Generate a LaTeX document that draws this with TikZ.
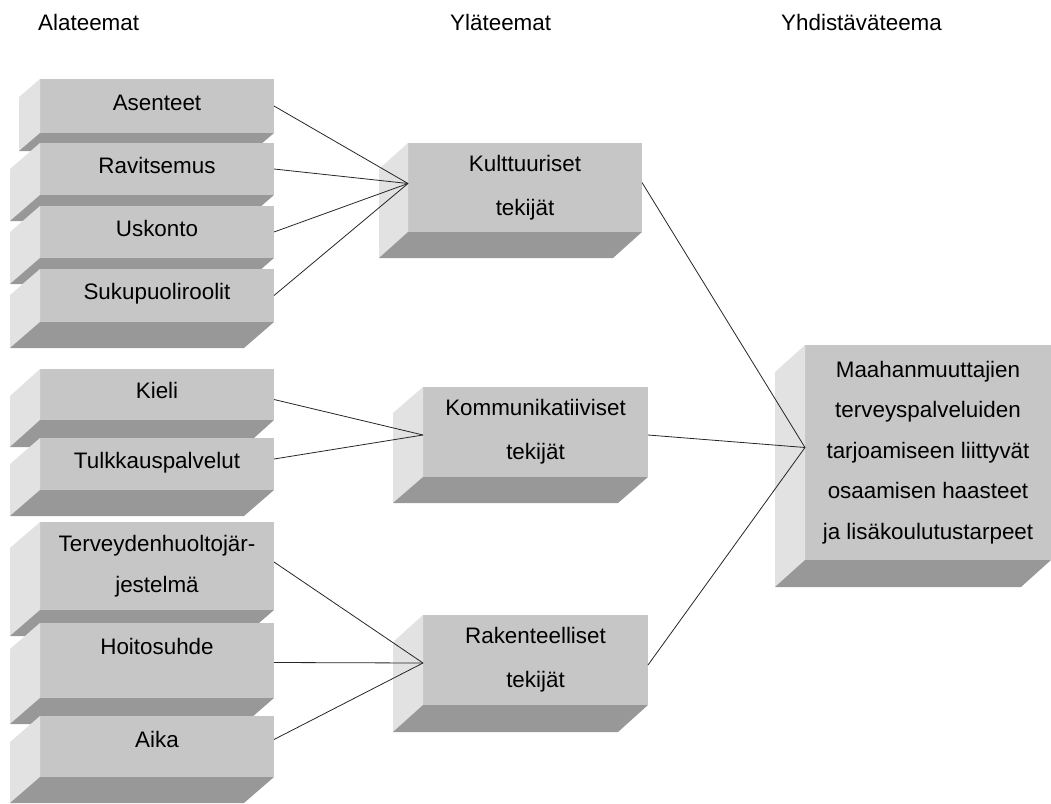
\documentclass[tikz,border=0pt]{standalone}
\usepackage{fontspec}
\setmainfont{Liberation Sans}
\usetikzlibrary{calc}
\definecolor{frontc}{RGB}{198,198,198}
\definecolor{leftc}{RGB}{226,226,226}
\definecolor{botc}{RGB}{152,152,152}
\newcommand\cubefaces[3]{%
  \fill[leftc] (#1.north west) -- (#1.south west) -- ($(#1.south west)+(#2,#3)$) -- ($(#1.north west)+(#2,#3)$) -- cycle;
  \fill[botc] (#1.south west) -- (#1.south east) -- ($(#1.south east)+(#2,#3)$) -- ($(#1.south west)+(#2,#3)$) -- cycle;
}
\begin{document}
\begin{tikzpicture}[x=1pt, y=-1pt,
  txt/.style={font=\fontsize{22.4}{40.5}\selectfont},
  front/.style={txt, fill=frontc, inner sep=0pt, outer sep=0pt, align=center, anchor=north west},
  leftbox/.style={front, minimum width=234pt},
  widetxt/.style={font=\fontsize{22.4}{44}\selectfont},
  midbox/.style={front, widetxt, minimum width=225pt, minimum height=90pt},
  single/.style={text height=16pt, text depth=8pt},
  heading/.style={txt, inner sep=0pt, anchor=west},
  conn/.style={draw=black!85, line width=0.8pt}]
\useasboundingbox (0,0) rectangle (1051,803);

\node[heading] (h1) at (38,22) {Alateemat};
\node[heading] (h2) at (450,22) {Yläteemat};
\node[heading] (h3) at (781,22) {Yhdistäväteema};

% left column
\node[leftbox, single, minimum height=54pt] (asenteet) at (40,79) {Asenteet};
\cubefaces{asenteet}{-21}{18}
\node[leftbox, single, minimum height=52pt] (ravitsemus) at (40,143) {Ravitsemus};
\cubefaces{ravitsemus}{-30}{26}
\node[leftbox, single, minimum height=52pt] (uskonto) at (40,206) {Uskonto};
\cubefaces{uskonto}{-30}{26}
\node[leftbox, single, minimum height=53pt] (suku) at (40,269) {Sukupuoliroolit};
\cubefaces{suku}{-30}{26}

\node[leftbox, single, minimum height=51pt] (kieli) at (40,369) {Kieli};
\cubefaces{kieli}{-30}{27}
\node[leftbox, single, minimum height=52pt] (tulkkaus) at (40,438) {Tulkkauspalvelut};
\cubefaces{tulkkaus}{-30}{26}

\node[leftbox, minimum height=88pt] (terveys) at (40,522) {Terveydenhuoltojär-\\jestelmä};
\cubefaces{terveys}{-30}{26}
\node[leftbox, text height=16pt, text depth=29pt, minimum height=75pt] (hoito) at (40,623) {Hoitosuhde};
\cubefaces{hoito}{-30}{26}
\node[leftbox, text height=16pt, text depth=15pt, minimum height=61pt] (aika) at (40,716) {Aika};
\cubefaces{aika}{-30}{26}

% middle column
\node[front, widetxt, minimum width=234pt, minimum height=89pt] (kult) at (408,143) {Kulttuuriset\\tekijät};
\cubefaces{kult}{-29}{26}
\node[midbox] (komm) at (423,387) {Kommunikatiiviset\\tekijät};
\cubefaces{komm}{-30}{26}
\node[midbox] (rak) at (423,615) {Rakenteelliset\\tekijät};
\cubefaces{rak}{-30}{27}

% right
\node[front, minimum width=246pt, minimum height=215pt] (maah) at (805,345) {Maahanmuuttajien\\terveyspalveluiden\\tarjoamiseen liittyvät\\osaamisen haasteet\\ja lisäkoulutustarpeet};
\cubefaces{maah}{-30}{27}

% connectors
\draw[conn] (asenteet.east) -- ([yshift=4pt]kult.west);
\draw[conn] (ravitsemus.east) -- ([yshift=4pt]kult.west);
\draw[conn] (uskonto.east) -- ([yshift=4pt]kult.west);
\draw[conn] (suku.east) -- ([yshift=4pt]kult.west);
\draw[conn] ([yshift=-5pt]kieli.east) -- ([yshift=-3pt]komm.west);
\draw[conn] ([yshift=5pt]tulkkaus.east) -- ([yshift=-3pt]komm.west);
\draw[conn] ([yshift=4pt]terveys.east) -- ([yshift=-3pt]rak.west);
\draw[conn] ([yshift=-2pt]hoito.east) -- ([yshift=-3pt]rak.west);
\draw[conn] ([yshift=7pt]aika.east) -- ([yshift=-3pt]rak.west);
\draw[conn] ([yshift=5pt]kult.east) -- ([yshift=5pt]maah.west);
\draw[conn] ([yshift=-3pt]komm.east) -- ([yshift=5pt]maah.west);
\draw[conn] ([yshift=-5pt]rak.east) -- ([yshift=5pt]maah.west);
\end{tikzpicture}
\end{document}
